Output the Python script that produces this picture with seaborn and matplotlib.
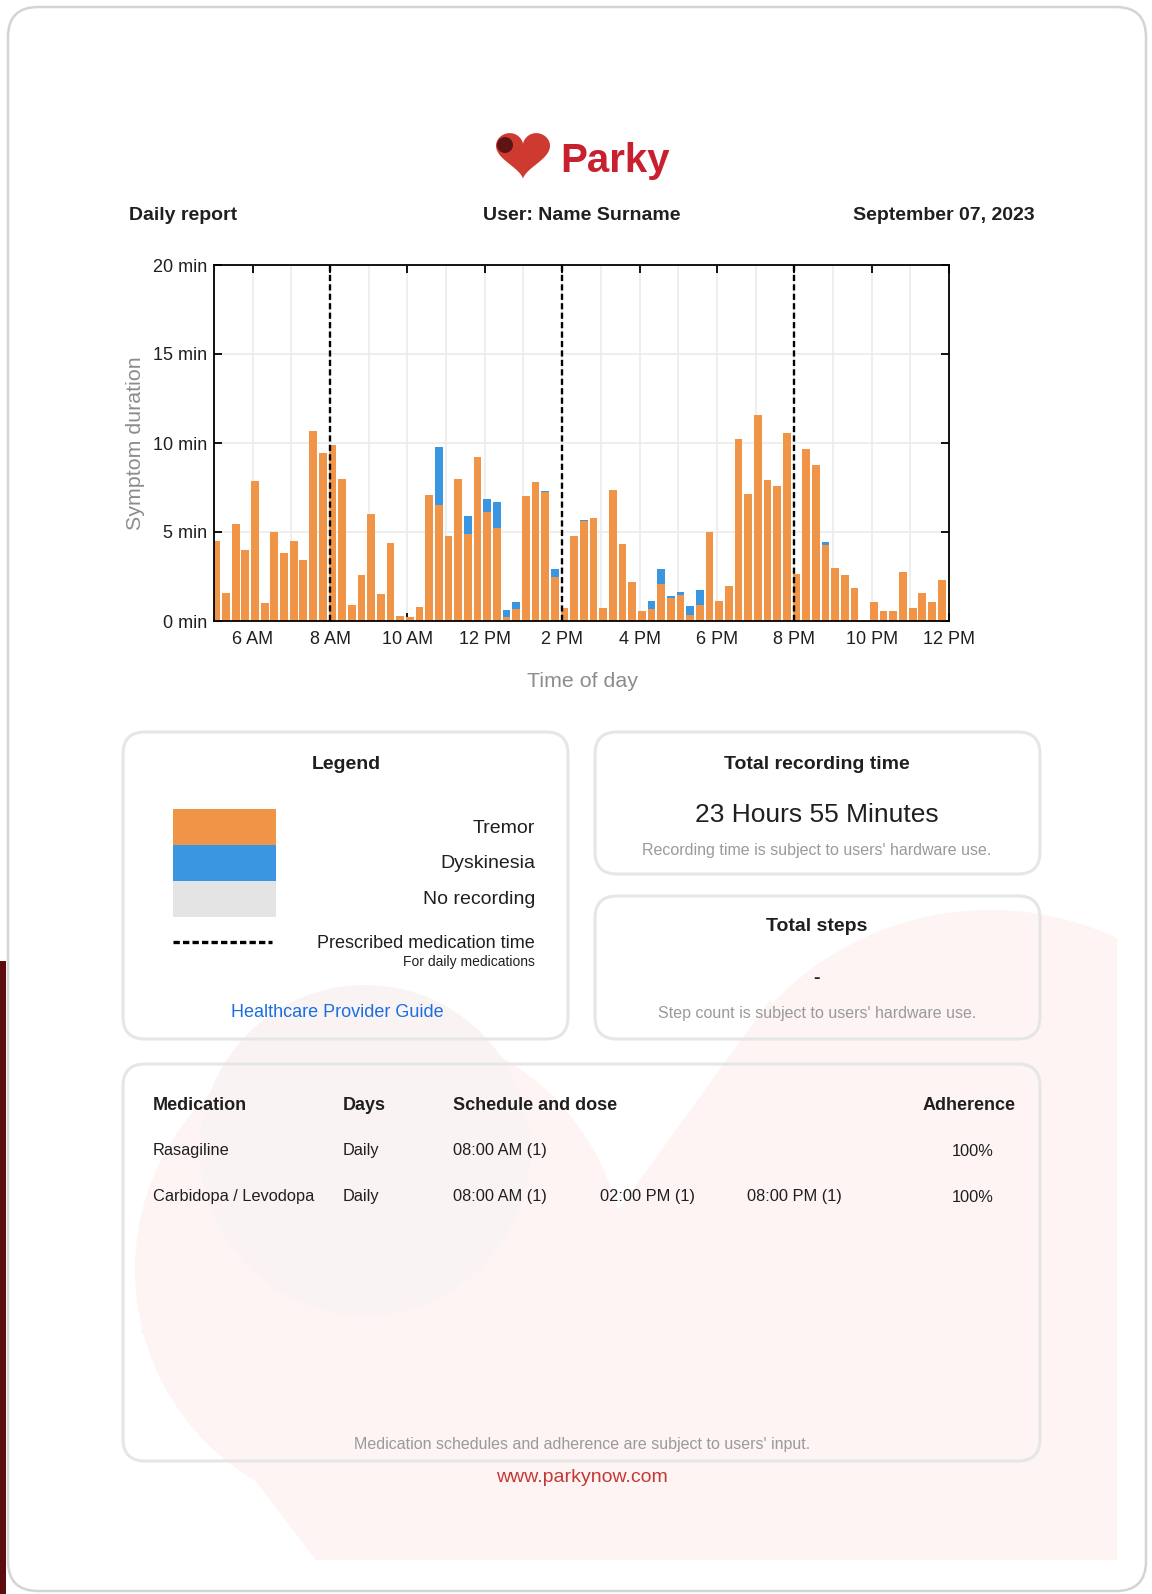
import matplotlib
matplotlib.use("Agg")
import numpy as np
import pandas as pd
import matplotlib.pyplot as plt
from matplotlib.patches import FancyBboxPatch, Rectangle, Circle, Polygon
from matplotlib.lines import Line2D
import seaborn as sns

# ---- data ----
bin_start = [
    "05:00", "05:15", "05:30", "05:45", "06:00", "06:15", "06:30", "06:45",
    "07:00", "07:15", "07:30", "07:45", "08:00", "08:15", "08:30", "08:45",
    "09:00", "09:15", "09:30", "09:45", "10:00", "10:15", "10:30", "10:45",
    "11:00", "11:15", "11:30", "11:45", "12:00", "12:15", "12:30", "12:45",
    "13:00", "13:15", "13:30", "13:45", "14:00", "14:15", "14:30", "14:45",
    "15:00", "15:15", "15:30", "15:45", "16:00", "16:15", "16:30", "16:45",
    "17:00", "17:15", "17:30", "17:45", "18:00", "18:15", "18:30", "18:45",
    "19:00", "19:15", "19:30", "19:45", "20:00", "20:15", "20:30", "20:45",
    "21:00", "21:15", "21:30", "21:45", "22:00", "22:15", "22:30", "22:45",
    "23:00", "23:15", "23:30", "23:45",
]
tremor = [
    4.5, 1.6, 5.45, 4.0, 7.85, 1.0, 5.0, 3.8,
    4.5, 3.4, 10.65, 9.45, 9.9, 7.95, 0.9, 2.6,
    6.0, 1.5, 4.4, 0.3, 0.25, 0.8, 7.1, 6.5,
    4.75, 8.0, 4.9, 9.2, 6.1, 5.25, 0.2, 0.65,
    7.0, 7.8, 7.25, 2.5, 0.75, 4.75, 5.6, 5.8,
    0.75, 7.35, 4.35, 2.2, 0.55, 0.65, 2.1, 1.3,
    1.45, 0.35, 0.9, 5.0, 1.1, 1.95, 10.25, 7.15,
    11.6, 7.9, 7.6, 10.55, 2.65, 9.65, 8.75, 4.25,
    3.0, 2.6, 1.85, 0.0, 1.05, 0.55, 0.55, 2.75,
    0.75, 1.6, 1.05, 2.3,
]
dyskinesia = [
    0, 0, 0, 0, 0, 0, 0, 0,
    0, 0, 0, 0, 0, 0, 0, 0,
    0, 0, 0, 0, 0, 0, 0, 3.3,
    0, 0, 1.0, 0, 0.75, 1.45, 0.4, 0.4,
    0, 0, 0.07, 0.4, 0, 0, 0.08, 0,
    0, 0, 0, 0, 0, 0.5, 0.8, 0.12,
    0.18, 0.5, 0.82, 0, 0, 0, 0, 0,
    0, 0, 0, 0, 0, 0, 0, 0.17,
    0, 0, 0, 0, 0, 0, 0, 0,
    0, 0, 0, 0,
]
dose_times = ["08:00", "14:00", "20:00"]
x_ticks = [6, 8, 10, 12, 14, 16, 18, 20, 22, 24]
x_labels = ["6 AM", "8 AM", "10 AM", "12 PM", "2 PM", "4 PM", "6 PM", "8 PM", "10 PM", "12 PM"]
y_ticks = [0, 5, 10, 15, 20]
y_labels = ["0 min", "5 min", "10 min", "15 min", "20 min"]

legend_items = ["Tremor", "Dyskinesia", "No recording"]
med_names = ["Rasagiline", "Carbidopa / Levodopa"]
med_days = ["Daily", "Daily"]
med_schedule = [["08:00 AM (1)"], ["08:00 AM (1)", "02:00 PM (1)", "08:00 PM (1)"]]
med_adherence = ["100%", "100%"]

ORANGE = "#f09448"
BLUE = "#3a96e0"
GREY = "#e4e4e4"
DARK = "#1f1f1f"
MUTED = "#9a9a9a"


def to_hours(s):
    h, m = s.split(":")
    return int(h) + int(m) / 60


df = pd.DataFrame({"start": [to_hours(s) for s in bin_start],
                   "tremor": tremor, "dyskinesia": dyskinesia})
df["total"] = df["tremor"] + df["dyskinesia"]
df["pos"] = df["start"] + 0.06

sns.set_theme(style="white")
plt.rcParams["font.family"] = ["Liberation Sans", "DejaVu Sans"]

W, H = 1152, 1594
fig = plt.figure(figsize=(W / 100, H / 100), dpi=100)
fig.patch.set_facecolor("white")

# page layer in pixel coordinates
bg = fig.add_axes([0, 0, 1, 1], zorder=0)
bg.set_xlim(0, W)
bg.set_ylim(H, 0)
bg.axis("off")

# faint heart watermark
wm = "#fdf4f3"
clip = Rectangle((0, 0), 1117, 1560, transform=bg.transData)
for p in [
    Circle((990, 1210), 300, color=wm, lw=0),
    Circle((380, 1270), 245, color=wm, lw=0),
    Polygon([(600, 1235), (770, 1000), (990, 1210), (1117, 1210), (1117, 1560),
             (316, 1560), (140, 1330), (380, 1270)], closed=True, color=wm, lw=0),
    Circle((365, 1150), 165, color="#faf3f3", lw=0),
]:
    bg.add_patch(p)
    p.set_clip_path(clip)

# page frame and side strip
bg.add_patch(Rectangle((0, 961), 6, 640, color="#5c0c0c", lw=0))
bg.add_patch(FancyBboxPatch((8, 7), 1138, 1584, boxstyle="round,pad=0,rounding_size=30",
                            fc="none", ec="#d4d4d4", lw=1.8))

# logo
t = np.linspace(0, 2 * np.pi, 300)
hx = 16 * np.sin(t) ** 3
hy = 13 * np.cos(t) - 5 * np.cos(2 * t) - 2 * np.cos(3 * t) - np.cos(4 * t)
bg.add_patch(Polygon(np.column_stack([523 + hx * 27 / 16, 133 + (12 - hy) * 46 / 29]),
                     closed=True, fc="#cf3a30", lw=0))
bg.add_patch(Circle((505, 145), 8, fc="#5e1414", lw=0))
bg.text(615, 172, "Parky", ha="center", va="baseline", fontsize=29, fontweight="bold",
        color="#c8202f")

# header row
bg.text(129, 215, "Daily report", ha="left", va="center", fontsize=14, fontweight="bold", color=DARK)
bg.text(582, 215, "User: Name Surname", ha="center", va="center", fontsize=14, fontweight="bold", color=DARK)
bg.text(1035, 215, "September 07, 2023", ha="right", va="center", fontsize=14, fontweight="bold", color=DARK)


def card(x0, y0, x1, y1):
    bg.add_patch(FancyBboxPatch((x0, y0), x1 - x0, y1 - y0,
                                boxstyle="round,pad=0,rounding_size=22",
                                fc="none", ec="#e6e6e6", lw=2.2))


# legend card
card(123, 732, 568, 1039)
bg.text(346, 764, "Legend", ha="center", va="center", fontsize=14, fontweight="bold", color=DARK)
for i, (lab, col) in enumerate(zip(legend_items, [ORANGE, BLUE, GREY])):
    bg.add_patch(Rectangle((173, 809 + i * 36), 103, 36, color=col, lw=0))
    bg.text(535, 828 + i * 35.5, lab, ha="right", va="center", fontsize=14, color=DARK)
bg.add_line(Line2D([173, 272], [942, 942], color="black", lw=2.4, ls=(0, (1.9, 0.95))))
bg.text(535, 943, "Prescribed medication time", ha="right", va="center", fontsize=13, color=DARK)
bg.text(535, 962, "For daily medications", ha="right", va="center", fontsize=10, color=DARK)
bg.text(337, 1012, "Healthcare Provider Guide", ha="center", va="center", fontsize=13, color="#1a6fe0")

# recording time card
card(595, 732, 1040, 874)
bg.text(817, 764, "Total recording time", ha="center", va="center", fontsize=14, fontweight="bold", color=DARK)
bg.text(817, 815, "23 Hours 55 Minutes", ha="center", va="center", fontsize=19, color=DARK)
bg.text(817, 850, "Recording time is subject to users' hardware use.", ha="center", va="center",
        fontsize=11.5, color=MUTED)

# steps card
card(595, 896, 1040, 1039)
bg.text(817, 926, "Total steps", ha="center", va="center", fontsize=14, fontweight="bold", color=DARK)
bg.text(817, 978, "-", ha="center", va="center", fontsize=14, fontweight="bold", color=DARK)
bg.text(817, 1013, "Step count is subject to users' hardware use.", ha="center", va="center",
        fontsize=11.5, color=MUTED)

# medication card
card(123, 1064, 1040, 1461)
for x, head in zip([153, 343, 453], ["Medication", "Days", "Schedule and dose"]):
    bg.text(x, 1105, head, ha="left", va="center", fontsize=13, fontweight="bold", color=DARK)
bg.text(1016, 1105, "Adherence", ha="right", va="center", fontsize=13, fontweight="bold", color=DARK)
for r, (name, days, sched, adh) in enumerate(zip(med_names, med_days, med_schedule, med_adherence)):
    y = 1151 + r * 46
    bg.text(153, y, name, ha="left", va="center", fontsize=11.8, color=DARK)
    bg.text(343, y, days, ha="left", va="center", fontsize=11.8, color=DARK)
    for k, s in enumerate(sched):
        bg.text(453 + k * 147, y, s, ha="left", va="center", fontsize=11.8, color=DARK)
    bg.text(973, y, adh, ha="center", va="center", fontsize=11.8, color=DARK)
bg.text(582, 1445, "Medication schedules and adherence are subject to users' input.",
        ha="center", va="center", fontsize=11.5, color=MUTED)
bg.text(582, 1477, "www.parkynow.com", ha="center", va="center", fontsize=14, color="#c23a36")

# ---- symptom chart ----
ax = fig.add_axes([214 / W, 1 - 621 / H, 735 / W, 356 / H], zorder=2)
ax.set_facecolor("white")
sns.barplot(data=df, x="pos", y="total", native_scale=True, color=BLUE, saturation=1,
            width=0.8, linewidth=0, errorbar=None, ax=ax)
sns.barplot(data=df, x="pos", y="tremor", native_scale=True, color=ORANGE, saturation=1,
            width=0.8, linewidth=0, errorbar=None, ax=ax)
for d in dose_times:
    ax.axvline(to_hours(d), color="black", lw=1.7, ls=(0, (2.6, 1.4)), zorder=5)

ax.set_xlim(5, 24)
ax.set_ylim(0, 20)
ax.set_xticks(x_ticks)
ax.set_xticklabels(x_labels)
ax.set_xticks(range(5, 25), minor=True)
ax.set_yticks(y_ticks)
ax.set_yticklabels(y_labels)
ax.set_axisbelow(True)
ax.grid(True, axis="x", which="both", color="#ebebeb", lw=1.2)
ax.grid(True, axis="y", which="major", color="#ebebeb", lw=1.2)
ax.tick_params(axis="x", which="major", direction="in", top=True, bottom=True,
               length=6, width=1.3, color="black", labelsize=13, labelcolor=DARK, pad=7)
ax.tick_params(axis="x", which="minor", length=0)
ax.tick_params(axis="y", direction="in", left=True, right=True, length=6, width=1.3,
               color="black", labelsize=13, labelcolor=DARK, pad=5)
for sp in ax.spines.values():
    sp.set_visible(True)
    sp.set_color("black")
    sp.set_linewidth(1.3)
ax.set_xlabel("")
ax.set_ylabel("")
ax.text(0.5007, -0.171, "Time of day", transform=ax.transAxes, ha="center", va="center",
        fontsize=15.4, color="#8c8c8c")
ax.text(-0.107, 0.5, "Symptom duration", transform=ax.transAxes, ha="center", va="center",
        rotation=90, fontsize=15.4, color="#8c8c8c")

fig.savefig("out.png", dpi=100)
